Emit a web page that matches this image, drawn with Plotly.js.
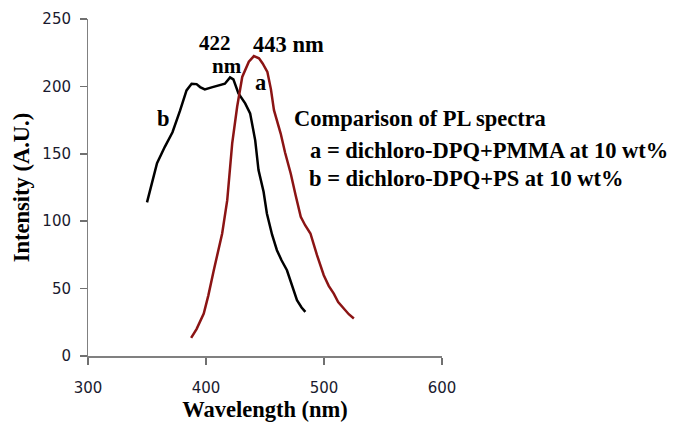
<!DOCTYPE html>
<html>
<head>
<meta charset="utf-8">
<script src="https://cdn.plot.ly/plotly-3.0.1.min.js"></script>
<style>html,body{margin:0;padding:0;background:#fff;}#chart{width:673px;height:423px;}</style>
</head>
<body>
<div id="chart"></div>
<script>
// Series a: dichloro-DPQ+PMMA at 10 wt%
const wavelengthA = [387.4, 392, 398.1, 402, 406.6, 410, 413.7, 418, 422.2, 426.4, 430.7, 436.3, 440.6, 444.9, 448, 452, 455, 457.6, 463.3, 467, 471.8, 476, 480.3, 484, 488.5, 494, 499.8, 504, 508.3, 512, 516.8, 521, 525.3];
const intensityA  = [13.4, 20, 31.5, 45, 63.6, 77, 90.9, 115.6, 157.7, 184.9, 207, 218.3, 222.5, 220.8, 217, 210.8, 198, 182.4, 165, 151, 135.4, 119, 103.2, 97, 90.9, 75, 59.9, 52, 46.3, 40, 35.2, 31, 27.8];
// Series b: dichloro-DPQ+PS at 10 wt%
const wavelengthB = [350, 354, 358.5, 365, 371.6, 378, 383.5, 387.8, 392, 395, 399, 404.8, 408, 411.9, 416, 420.4, 423.2, 427.5, 433.2, 437.4, 441.7, 444.5, 448.8, 451.6, 456, 460.1, 464, 468.6, 473, 477.1, 481, 484.2];
const intensityB  = [114, 128, 143, 155, 166, 182, 197, 202, 201.7, 199.5, 197.8, 199.3, 200, 201, 202, 206.7, 205.2, 194.8, 187.4, 180, 160, 137.9, 121.8, 105.7, 90, 78.5, 71, 63.6, 52, 41.4, 36, 32.7];

const xTicks = [300, 400, 500, 600];
const yTicks = [0, 50, 100, 150, 200, 250];
const xRange = [300, 600];
const yRange = [0, 250];

const serif = 'Liberation Serif, Times New Roman, serif';
const sans = 'DejaVu Sans, Verdana, sans-serif';

const traces = [
  {x: wavelengthB, y: intensityB, mode: 'lines', line: {color: '#000000', width: 2.5}, name: 'b', showlegend: false},
  {x: wavelengthA, y: intensityA, mode: 'lines', line: {color: '#8B1414', width: 2.5}, name: 'a', showlegend: false},
  // empty trace so the label-only overlay axes exist
  {x: [], y: [], xaxis: 'x2', yaxis: 'y2', mode: 'lines', showlegend: false, hoverinfo: 'skip'}
];

const annText = (x, y, text, anchor, size) => ({
  x: x, y: y, xref: 'x', yref: 'y', text: text, showarrow: false,
  xanchor: anchor || 'center', yanchor: 'middle',
  font: {family: serif, size: size || 22.5, color: '#000000'}
});

const tickFont = {family: sans, size: 15, color: '#1a1a2e'};

const layout = {
  width: 673, height: 423,
  margin: {l: 88, r: 231, t: 19, b: 67},
  paper_bgcolor: '#ffffff', plot_bgcolor: '#ffffff',
  showlegend: false,
  xaxis: {
    range: xRange, tickvals: xTicks, showticklabels: false,
    showgrid: false, zeroline: false, showline: true, linecolor: '#808080', linewidth: 1.5,
    ticks: 'outside', ticklen: 7, tickcolor: '#707070', tickwidth: 1.5
  },
  yaxis: {
    range: yRange, tickvals: yTicks, showticklabels: false,
    showgrid: false, zeroline: false, showline: true, linecolor: '#808080', linewidth: 1.5,
    ticks: 'outside', ticklen: 7, tickcolor: '#707070', tickwidth: 1.5
  },
  xaxis2: {
    overlaying: 'x', anchor: 'y2', side: 'bottom',
    range: xRange, tickvals: xTicks, ticktext: xTicks.map(String),
    showgrid: false, zeroline: false, showline: false, ticks: '',
    ticklabelstandoff: 21,
    tickfont: tickFont,
    title: {text: '<b>Wavelength (nm)</b>', font: {family: serif, size: 22.5, color: '#000'}, standoff: 3}
  },
  yaxis2: {
    overlaying: 'y', anchor: 'x2', side: 'left',
    range: yRange, tickvals: yTicks, ticktext: yTicks.map(String),
    showgrid: false, zeroline: false, showline: false, ticks: '',
    ticklabelstandoff: 16,
    tickfont: tickFont,
    title: {text: '<b>Intensity (A.U.)</b>', font: {family: serif, size: 22.5, color: '#000'}, standoff: 6}
  },
  annotations: [
    annText(407.8, 232.5, '<b>422</b>', 'center', 21),
    annText(418, 215.5, '<b>nm</b>', 'center', 21),
    annText(469.5, 231.4, '<b>443 nm</b>'),
    annText(446, 203.2, '<b>a</b>'),
    annText(364, 176.5, '<b>b</b>'),
    annText(473.2, 176.5, '<b>Comparison of PL spectra</b>', 'left'),
    annText(486.8, 152.7, '<b>a = dichloro-DPQ+PMMA at 10 wt%</b>', 'left'),
    annText(486, 131.9, '<b>b = dichloro-DPQ+PS at 10 wt%</b>', 'left')
  ]
};

Plotly.newPlot('chart', traces, layout, {displayModeBar: false, staticPlot: true});
</script>
</body>
</html>
